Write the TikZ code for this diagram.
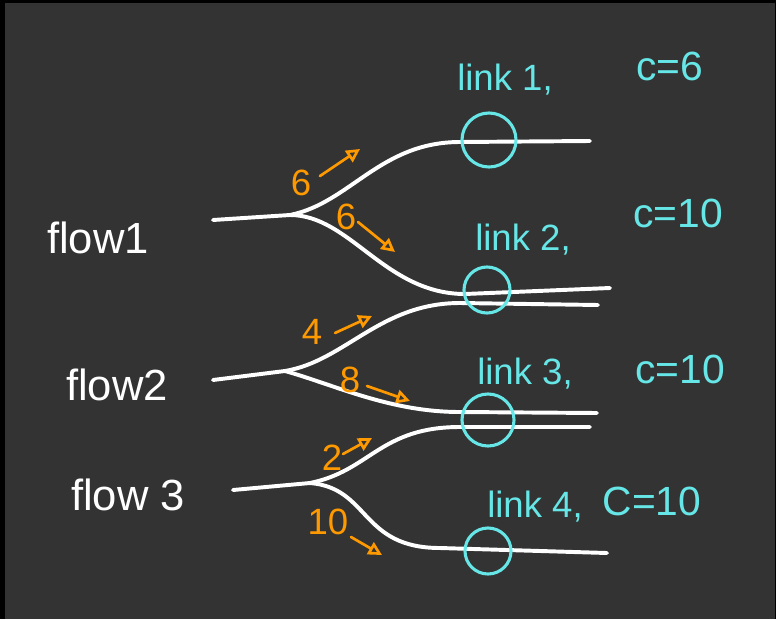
\documentclass[tikz,border=0pt]{standalone}
\usepackage{fontspec}
\setmainfont{Liberation Sans}
\usetikzlibrary{positioning,arrows.meta}
\definecolor{board}{HTML}{333333}
\definecolor{cyanink}{HTML}{66E6E6}
\definecolor{orangeink}{HTML}{FF9900}

\begin{document}
\begin{tikzpicture}[
    x=0.025cm, y=-0.025cm,
    pipe/.style={draw=white, line width=2.8pt, line cap=round},
    ring/.style={circle, draw=cyanink, line width=2.2pt, inner sep=0pt, minimum size=#1},
    flowlabel/.style={text=white, font=\fontsize{31}{31}\selectfont},
    linklabel/.style={text=cyanink, font=\fontsize{26}{26}\selectfont},
    caplabel/.style={text=cyanink, font=\fontsize{29}{29}\selectfont},
    rate/.style={text=orangeink, font=\fontsize{26}{26}\selectfont},
    ratearrow/.style={draw=orangeink, line width=1.9pt, line cap=round, -{Triangle[open, length=3.4mm, width=3.4mm]}}
]
% board
\fill[black] (0,0) rectangle (776,619);
\fill[board] (5,3) rectangle (775,619);
\useasboundingbox (0,0) rectangle (776,619);

% flow labels
\node[flowlabel] (flow1) at (98,238) {flow1};
\node[flowlabel] (flow2) at (117,385) {flow2};
\node[flowlabel] (flow3) at (128,495) {flow 3};

% path points
\coordinate (f1a) at (213,220);  \coordinate (f1s) at (290,215);
\coordinate (f1u) at (460,142);  \coordinate (f1ue) at (590,141);
\coordinate (f1l) at (465,294);  \coordinate (f1le) at (610,288);
\coordinate (f2a) at (213,380);  \coordinate (f2s) at (285,371);
\coordinate (f2u) at (460,303);  \coordinate (f2ue) at (598,305);
\coordinate (f2l) at (460,412);  \coordinate (f2le) at (597,413);
\coordinate (f3a) at (233,490);  \coordinate (f3s) at (310,483);
\coordinate (f3u) at (460,427);  \coordinate (f3ue) at (590,427);
\coordinate (f3l) at (440,548);  \coordinate (f3le) at (607,553);

% paths
\draw[pipe] (f1a) -- (f1s) .. controls +(60,-12) and +(-80,0) .. (f1u) -- (f1ue);
\draw[pipe] (f1s) .. controls +(60,0) and +(-80,0) .. (f1l) -- (f1le);
\draw[pipe] (f2a) -- (f2s) .. controls +(60,-10) and +(-80,0) .. (f2u) -- (f2ue);
\draw[pipe] (f2s) .. controls +(50,14) and +(-70,0) .. (f2l) -- (f2le);
\draw[pipe] (f3a) -- (f3s) .. controls +(60,-12) and +(-80,0) .. (f3u) -- (f3ue);
\draw[pipe] (f3s) .. controls +(60,5) and +(-80,0) .. (f3l) -- (f3le);

% links
\node[ring=1.35cm] (link1) at (489,140) {};
\node[ring=1.15cm] (link2) at (487,290) {};
\node[ring=1.3cm]  (link3) at (488,420) {};
\node[ring=1.15cm] (link4) at (488,551) {};

\node[linklabel] (link1txt) at (505,80) {link 1,};
\node[caplabel] (cap1) at (670,66) {c=6};
\node[linklabel] (link2txt) at (523,240) {link 2,};
\node[caplabel] (cap2) at (678,213) {c=10};
\node[linklabel] (link3txt) at (525,374) {link 3,};
\node[caplabel] (cap3) at (680,369) {c=10};
\node[linklabel] (link4txt) at (535,507) {link 4,};
\node[caplabel] (cap4) at (652,501) {C=10};

% rates
\node[rate] (r1u) at (301,183) {6};
\node[rate] (r1l) at (346,217) {6};
\node[rate] (r2u) at (312,332) {4};
\node[rate] (r2l) at (350,380) {8};
\node[rate] (r3u) at (332,458) {2};
\node[rate] (r3l) at (328,522) {10};

\coordinate (a1us) at (320,176); \coordinate (a1ue) at (360,149);
\coordinate (a1ls) at (358,222); \coordinate (a1le) at (395,252);
\coordinate (a2us) at (335,333); \coordinate (a2ue) at (372,316);
\coordinate (a2ls) at (367,386); \coordinate (a2le) at (410,401);
\coordinate (a3us) at (343,454); \coordinate (a3ue) at (372,438);
\coordinate (a3ls) at (351,537); \coordinate (a3le) at (382,555);

\draw[ratearrow] (a1us) -- (a1ue);
\draw[ratearrow] (a1ls) -- (a1le);
\draw[ratearrow] (a2us) -- (a2ue);
\draw[ratearrow] (a2ls) -- (a2le);
\draw[ratearrow] (a3us) -- (a3ue);
\draw[ratearrow] (a3ls) -- (a3le);
\end{tikzpicture}
\end{document}
